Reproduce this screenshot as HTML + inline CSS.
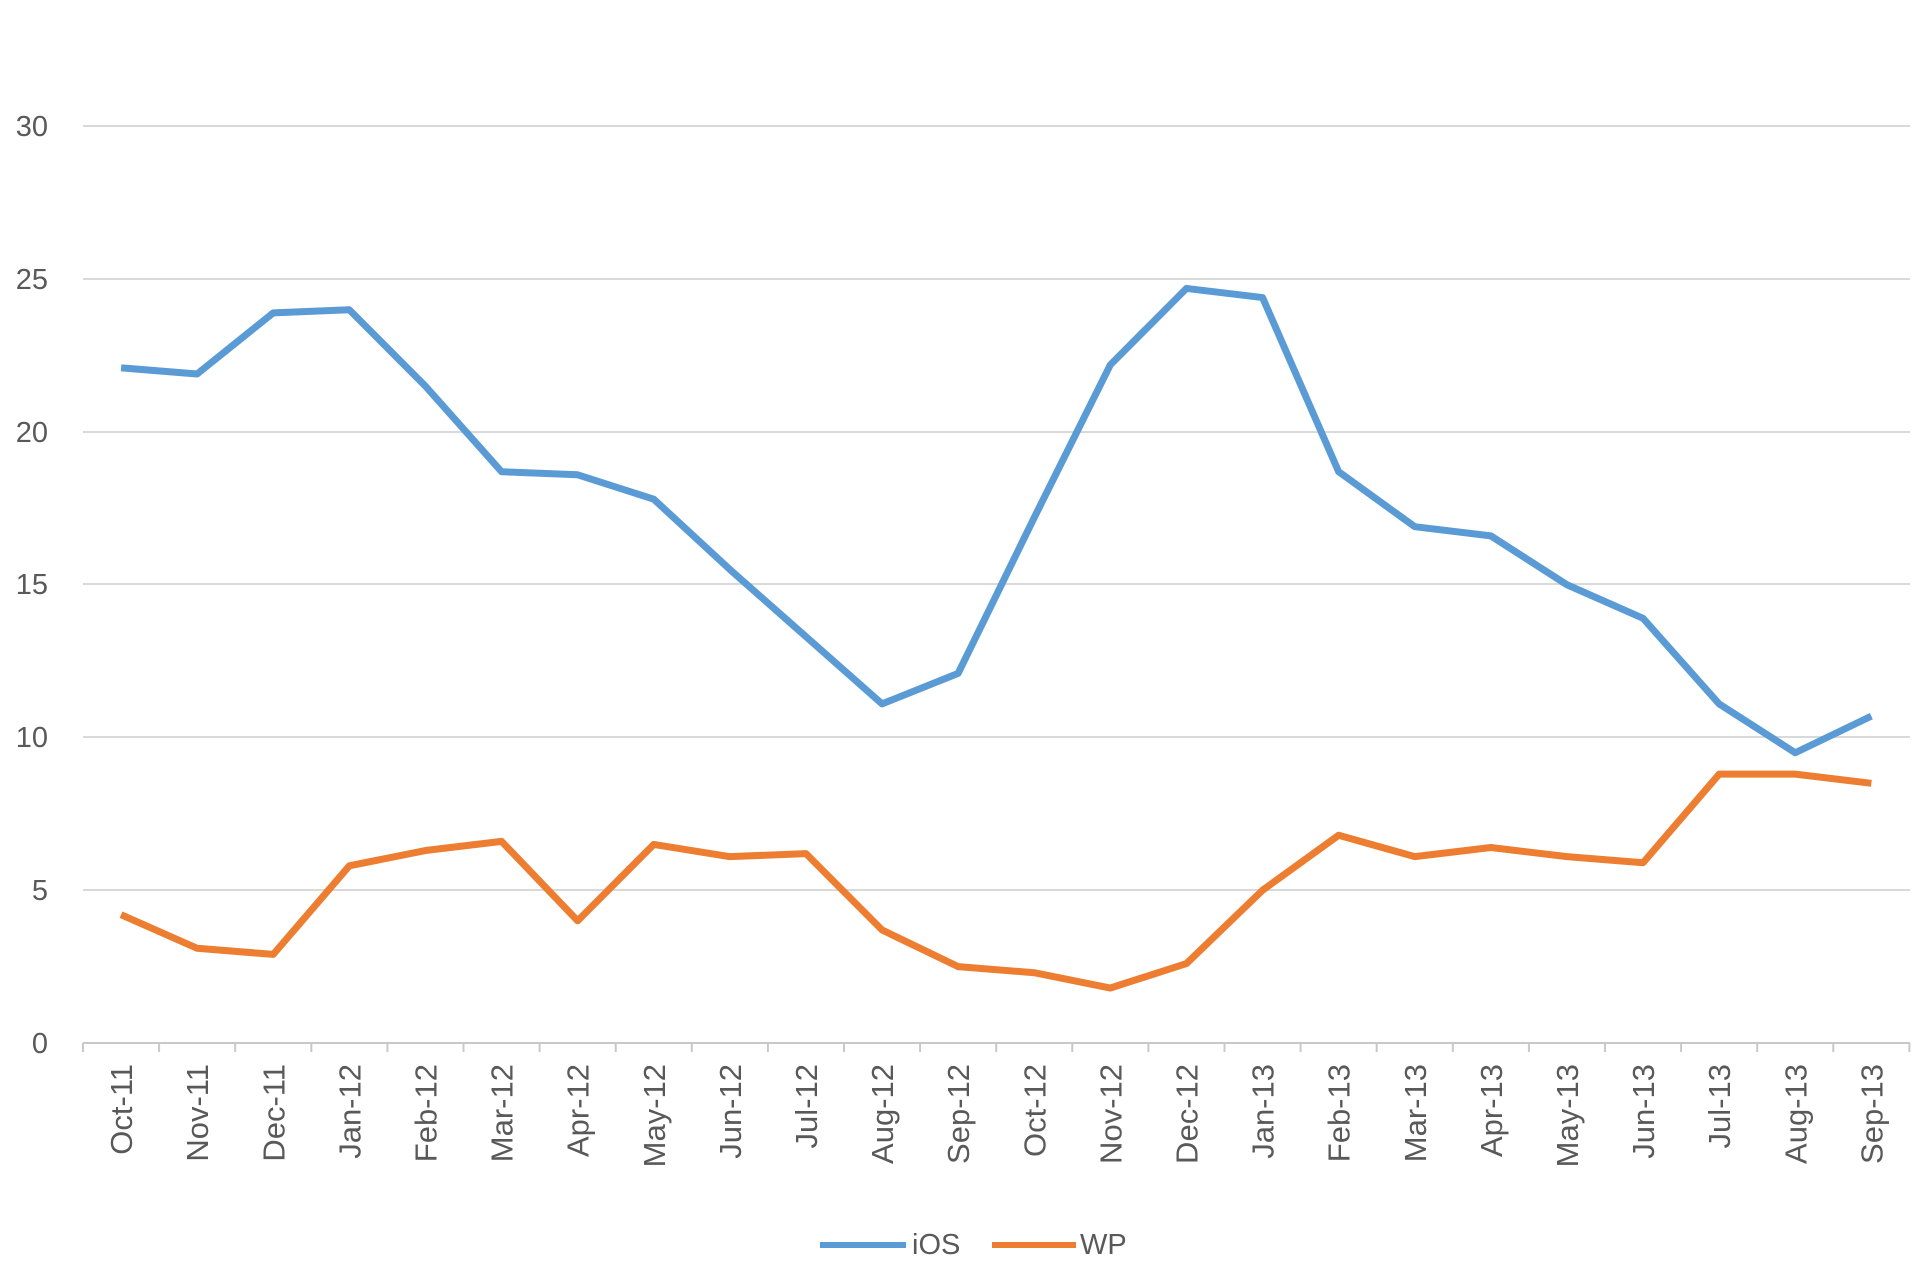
<!DOCTYPE html>
<html><head><meta charset="utf-8"><style>
html,body{margin:0;padding:0;background:#fff;}
svg{display:block;font-family:"Liberation Sans","DejaVu Sans",sans-serif;}
</style></head><body>
<svg width="1920" height="1280" viewBox="0 0 1920 1280" xmlns="http://www.w3.org/2000/svg">
<g stroke="#d9d9d9" stroke-width="2">
<line x1="83" y1="126" x2="1910" y2="126"/>
<line x1="83" y1="279" x2="1910" y2="279"/>
<line x1="83" y1="432" x2="1910" y2="432"/>
<line x1="83" y1="584" x2="1910" y2="584"/>
<line x1="83" y1="737" x2="1910" y2="737"/>
<line x1="83" y1="890" x2="1910" y2="890"/>
<line x1="83" y1="1043" x2="1910" y2="1043" stroke="#c8c8c8"/>
</g>
<g id="ticks" stroke="#c8c8c8" stroke-width="2"></g>
<g fill="#595959" font-size="29" text-anchor="end">
<text x="48" y="136">30</text><text x="48" y="289">25</text><text x="48" y="442">20</text>
<text x="48" y="594">15</text><text x="48" y="747">10</text><text x="48" y="900">5</text><text x="48" y="1053">0</text>
</g>
<g id="xl" fill="#595959" font-size="31" text-anchor="end"></g>
<polyline id="ios" fill="none" stroke="#5b9bd5" stroke-width="7" stroke-linejoin="round"/>
<polyline id="wp" fill="none" stroke="#ed7d31" stroke-width="7" stroke-linejoin="round"/>
<line x1="820" y1="1245" x2="906" y2="1245" stroke="#5b9bd5" stroke-width="6"/>
<text x="912" y="1254" fill="#595959" font-size="29">iOS</text>
<line x1="992" y1="1245" x2="1076" y2="1245" stroke="#ed7d31" stroke-width="6"/>
<text x="1080" y="1254" fill="#595959" font-size="29">WP</text>
<script>
var ios=[22.1,21.9,23.9,24.0,21.5,18.7,18.6,17.8,15.5,13.3,11.1,12.1,17.2,22.2,24.7,24.4,18.7,16.9,16.6,15.0,13.9,11.1,9.5,10.7];
var wp=[4.2,3.1,2.9,5.8,6.3,6.6,4.0,6.5,6.1,6.2,3.7,2.5,2.3,1.8,2.6,5.0,6.8,6.1,6.4,6.1,5.9,8.8,8.8,8.5];
var labs=["Oct-11","Nov-11","Dec-11","Jan-12","Feb-12","Mar-12","Apr-12","May-12","Jun-12","Jul-12","Aug-12","Sep-12","Oct-12","Nov-12","Dec-12","Jan-13","Feb-13","Mar-13","Apr-13","May-13","Jun-13","Jul-13","Aug-13","Sep-13"];
var x0=83,dx=76.1,y0=1043,sy=30.55;
function X(i){return x0+dx*(i+0.5);}function Y(v){return y0-v*sy;}
document.getElementById('ios').setAttribute('points',ios.map(function(v,i){return X(i)+','+Y(v)}).join(' '));
document.getElementById('wp').setAttribute('points',wp.map(function(v,i){return X(i)+','+Y(v)}).join(' '));
var ns="http://www.w3.org/2000/svg",t=document.getElementById('ticks'),xl=document.getElementById('xl');
for(var i=0;i<=24;i++){var l=document.createElementNS(ns,'line');var x=x0+dx*i;l.setAttribute('x1',x);l.setAttribute('x2',x);l.setAttribute('y1',1043);l.setAttribute('y2',1052);t.appendChild(l);}
labs.forEach(function(s,i){var e=document.createElementNS(ns,'text');var x=X(i)+11;e.setAttribute('transform','translate('+x+',1064) rotate(-90)');e.textContent=s;xl.appendChild(e);});
</script>
</svg>
</body></html>
